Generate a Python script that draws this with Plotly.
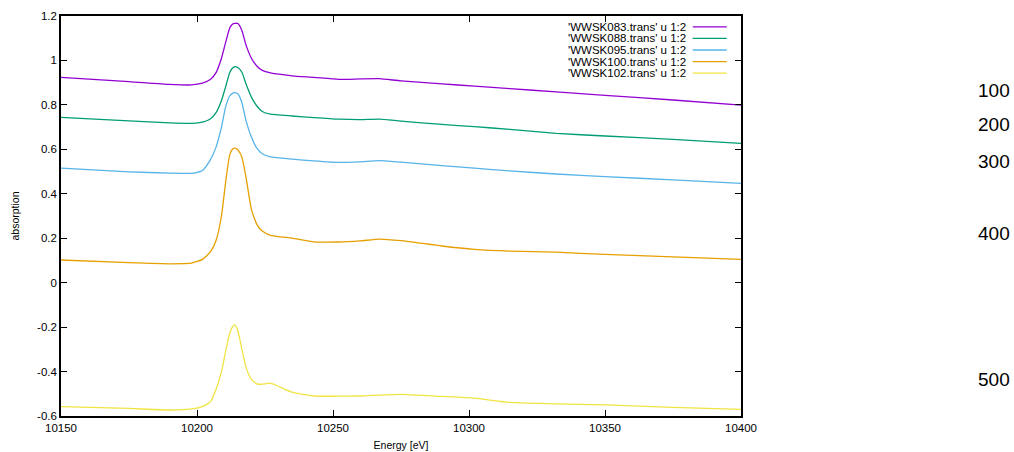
import plotly.graph_objects as go

energy = [10150, 10175, 10190, 10198, 10202, 10205, 10207, 10209, 10210.5, 10212,
          10213, 10214, 10215, 10216.5, 10218, 10220, 10222, 10224, 10227, 10235,
          10243, 10252, 10260, 10267, 10275, 10290, 10302, 10315, 10332, 10350,
          10375, 10400]

wwsk083 = [0.924, 0.905, 0.892, 0.890, 0.898, 0.915, 0.945, 1.01, 1.08, 1.145,
           1.163, 1.167, 1.166, 1.135, 1.07, 1.01, 0.975, 0.955, 0.944, 0.931,
           0.924, 0.915, 0.917, 0.918, 0.908, 0.895, 0.884, 0.873, 0.859, 0.843,
           0.822, 0.799]
wwsk088 = [0.744, 0.728, 0.719, 0.717, 0.722, 0.738, 0.765, 0.82, 0.88, 0.945,
           0.965, 0.972, 0.968, 0.947, 0.895, 0.835, 0.795, 0.77, 0.758, 0.75,
           0.743, 0.736, 0.734, 0.736, 0.727, 0.712, 0.702, 0.690, 0.672, 0.66,
           0.645, 0.627]
wwsk095 = [0.515, 0.499, 0.493, 0.492, 0.505, 0.555, 0.61, 0.70, 0.79, 0.84,
           0.852, 0.855, 0.85, 0.81, 0.73, 0.655, 0.605, 0.58, 0.566, 0.556,
           0.548, 0.541, 0.544, 0.549, 0.542, 0.527, 0.515, 0.503, 0.489, 0.477,
           0.463, 0.447]
wwsk100 = [0.102, 0.09, 0.085, 0.088, 0.105, 0.14, 0.19, 0.3, 0.45, 0.574,
           0.6, 0.605, 0.598, 0.565, 0.475, 0.33, 0.262, 0.232, 0.213, 0.2,
           0.184, 0.183, 0.188, 0.196, 0.189, 0.165, 0.15, 0.142, 0.137, 0.127,
           0.116, 0.105]
wwsk102 = [-0.558, -0.566, -0.573, -0.568, -0.558, -0.535, -0.48, -0.4, -0.31, -0.23,
           -0.2, -0.19, -0.215, -0.3, -0.38, -0.435, -0.455, -0.457, -0.452, -0.493,
           -0.51, -0.511, -0.51, -0.506, -0.503, -0.512, -0.52, -0.539, -0.545, -0.55,
           -0.561, -0.57]

series_names = ["'WWSK083.trans' u 1:2", "'WWSK088.trans' u 1:2", "'WWSK095.trans' u 1:2",
                "'WWSK100.trans' u 1:2", "'WWSK102.trans' u 1:2"]
series_values = [wwsk083, wwsk088, wwsk095, wwsk100, wwsk102]
colors = ["#9400d3", "#009e73", "#56b4e9", "#e69f00", "#f0e442"]

x_ticks = [10150, 10200, 10250, 10300, 10350, 10400]
x_tick_text = ["10150", "10200", "10250", "10300", "10350", "10400"]
y_ticks = [-0.6, -0.4, -0.2, 0, 0.2, 0.4, 0.6, 0.8, 1, 1.2]
y_tick_text = ["-0.6", "-0.4", "-0.2", "0", "0.2", "0.4", "0.6", "0.8", "1", "1.2"]

side_labels = ["100", "200", "300", "400", "500"]
side_label_pos = [0.815, 0.73, 0.6375, 0.455, 0.0925]

FONT = "Liberation Sans, Arial, sans-serif"

fig = go.Figure()
for name, vals, col in zip(series_names, series_values, colors):
    fig.add_trace(go.Scatter(x=energy, y=vals, mode="lines", name=name,
                             line=dict(color=col, width=1.3, shape="spline", smoothing=0.5),
                             showlegend=False))

# gnuplot-style key (text right-aligned, sample line to the right)
row_y = [0.973, 0.944, 0.915, 0.886, 0.857]
for name, col, ry in zip(series_names, colors, row_y):
    fig.add_annotation(xref="paper", yref="paper", x=0.922, y=ry, text=name,
                       showarrow=False, xanchor="right", yanchor="middle",
                       font=dict(family=FONT, size=11.5, color="#000000"))
    fig.add_shape(type="line", xref="paper", yref="paper", x0=0.929, x1=0.979,
                  y0=ry, y1=ry, line=dict(color=col, width=1.3))

for lab, py in zip(side_labels, side_label_pos):
    fig.add_annotation(xref="paper", yref="paper", x=1.3985, y=py, text=lab,
                       showarrow=False, xanchor="right", yanchor="middle",
                       font=dict(family=FONT, size=19, color="#000000"))

axis_common = dict(showline=True, linecolor="#000000", linewidth=1.5, mirror="ticks",
                   ticks="inside", ticklen=6, tickcolor="#000000", tickwidth=1,
                   showgrid=False, zeroline=False, automargin=False,
                   tickfont=dict(family=FONT, size=11.5, color="#000000"))

fig.update_layout(
    width=1014, height=452,
    margin=dict(l=61, r=273, t=16, b=36),
    paper_bgcolor="white", plot_bgcolor="white",
    xaxis=dict(range=[10150, 10400], tickvals=x_ticks, ticktext=x_tick_text,
               title=dict(text="Energy [eV]", standoff=9,
                          font=dict(family=FONT, size=10.5, color="#000000")),
               **axis_common),
    yaxis=dict(range=[-0.6, 1.2], tickvals=y_ticks, ticktext=y_tick_text,
               title=dict(text="absorption", standoff=15,
                          font=dict(family=FONT, size=10.5, color="#000000")),
               **axis_common),
)

fig.write_html("out.html", config={"displayModeBar": False},
               post_script="document.body.style.margin='0';")
